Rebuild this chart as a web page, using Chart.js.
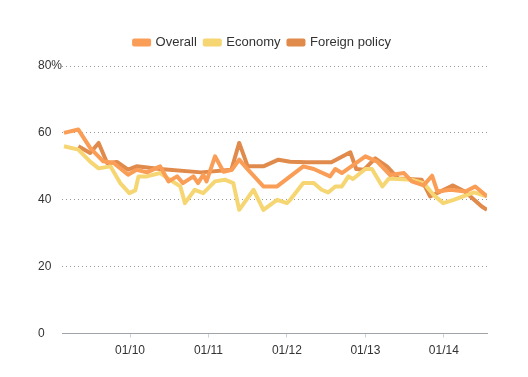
<!DOCTYPE html>
<html>
<head>
<meta charset="utf-8">
<script src="https://cdn.jsdelivr.net/npm/chart.js@4/dist/chart.umd.min.js"></script>
<style>
  html, body { margin: 0; padding: 0; background: #fff; }
  #wrap { width: 528px; height: 377px; }
</style>
</head>
<body>
<div id="wrap"><canvas id="line-chart"></canvas></div>
<script>
// months counted from Jan 2009 (Jan 2010 = 12)
const overallMonths = [1.9, 4.1, 5.9, 7.9, 9.5, 11.7, 13.0, 14.6, 16.6, 17.9, 19.2, 20.1, 21.7, 22.4, 23.2, 23.7, 25.0, 26.3, 27.6, 28.7, 29.9, 32.4, 34.5, 36.5, 38.5, 40.1, 42.6, 43.4, 44.4, 48.0, 49.8, 51.8, 53.9, 55.1, 56.9, 58.2, 59.0, 61.0, 63.3, 64.8, 66.6];
const overallValues = [60, 61, 55.5, 51.5, 51, 47.5, 49, 48.2, 50, 45.5, 47, 45, 47, 45, 47.5, 45.5, 53, 48.4, 49, 52, 49.3, 44, 44, 47, 50, 49.2, 47, 49.2, 48, 53, 51.4, 47.4, 48, 45.5, 44.3, 47.2, 42.5, 43, 42.5, 44, 41];

const economyMonths = [1.9, 4.1, 5.9, 7.2, 9.0, 10.5, 11.9, 12.8, 13.3, 14.6, 16.6, 18.1, 19.7, 20.4, 21.9, 23.2, 25.0, 26.5, 27.8, 28.7, 30.9, 32.4, 34.5, 36.0, 36.5, 38.5, 40.1, 41.3, 42.3, 43.4, 44.4, 45.4, 46.1, 48.0, 49.0, 50.6, 51.6, 55.1, 56.9, 58.4, 59.9, 61.5, 64.6, 66.6];
const economyValues = [56, 55, 51.4, 49.4, 50, 45, 42, 42.8, 47, 47, 48, 46, 44, 39, 43, 42, 45.5, 46, 45, 37, 43, 37, 40, 39, 40, 45, 45, 43, 42.2, 44, 44, 47, 46.2, 49.2, 49.2, 44, 46.4, 46, 45, 41.5, 39, 40, 42.2, 41];

const foreignMonths = [4.1, 5.9, 7.2, 8.5, 10.0, 11.7, 13.0, 16.6, 22.9, 27.5, 28.7, 30.0, 32.4, 34.7, 36.5, 39.0, 42.8, 45.7, 46.6, 47.8, 49.5, 51.3, 53.0, 56.6, 57.9, 61.4, 63.2, 65.8, 66.6];
const foreignValues = [56, 54, 57, 51, 51.3, 49, 50, 49.2, 48.2, 49, 57, 50, 50, 52, 51.4, 51.2, 51.2, 54.2, 49.2, 49, 52.4, 50, 46.4, 46, 41, 44.3, 42.5, 38, 37];

const yTicks = [0, 20, 40, 60, 80];
const xTickMonths = [12, 24, 36, 48, 60];
const xTickLabels = ["01/10", "01/11", "01/12", "01/13", "01/14"];

const toPoints = (xs, ys) => xs.map((x, i) => ({ x, y: ys[i] }));

Chart.defaults.font.family = "'Liberation Sans', Arial, sans-serif";
Chart.defaults.font.size = 12;
Chart.defaults.color = "#333";

const line = (label, color, data) => ({
  label,
  data,
  borderColor: color,
  backgroundColor: color,
  borderWidth: 4,
  pointRadius: 0,
  tension: 0,
  borderJoinStyle: "round",
});

// extra room between legend and plot
const legendGap = {
  id: "legendGap",
  beforeInit(chart) {
    const fit = chart.legend.fit;
    chart.legend.fit = function () {
      fit.bind(chart.legend)();
      this.height += 7;
    };
  },
};

new Chart(document.getElementById("line-chart"), {
  type: "line",
  data: {
    datasets: [
      line("Overall", "#f99d57", toPoints(overallMonths, overallValues)),
      line("Economy", "#f6d672", toPoints(economyMonths, economyValues)),
      line("Foreign policy", "#e08a4c", toPoints(foreignMonths, foreignValues)),
    ],
  },
  options: {
    responsive: true,
    maintainAspectRatio: false,
    animation: false,
    layout: { padding: { left: 38, right: 41, top: 28, bottom: 13 } },
    plugins: {
      tooltip: { enabled: false },
      legend: {
        position: "top",
        labels: {
          boxWidth: 15,
          boxHeight: 4,
          padding: 8,
          font: { size: 13 },
          color: "#333",
        },
      },
    },
    scales: {
      x: {
        type: "linear",
        min: 1.6,
        max: 66.6,
        afterBuildTicks: (axis) => {
          axis.ticks = xTickMonths.map((v) => ({ value: v }));
        },
        ticks: {
          autoSkip: false,
          maxRotation: 0,
          padding: 6,
          callback: (v) => xTickLabels[xTickMonths.indexOf(v)],
        },
        grid: {
          drawOnChartArea: false,
          drawTicks: true,
          tickLength: 4,
          color: "#c8d4e0",
        },
        border: { display: true, color: "#a0a4a8", width: 1 },
      },
      y: {
        min: 0,
        max: 80,
        afterBuildTicks: (axis) => {
          axis.ticks = yTicks.map((v) => ({ value: v }));
        },
        ticks: {
          crossAlign: "far",
          padding: 0,
          callback: (v) => (v === 80 ? v + "%" : v),
        },
        grid: {
          drawTicks: false,
          color: (ctx) => (ctx.tick && ctx.tick.value === 0 ? "rgba(0,0,0,0)" : "#999"),
        },
        border: { display: false, dash: [1, 3] },
      },
    },
  },
  plugins: [legendGap],
});
</script>
</body>
</html>
